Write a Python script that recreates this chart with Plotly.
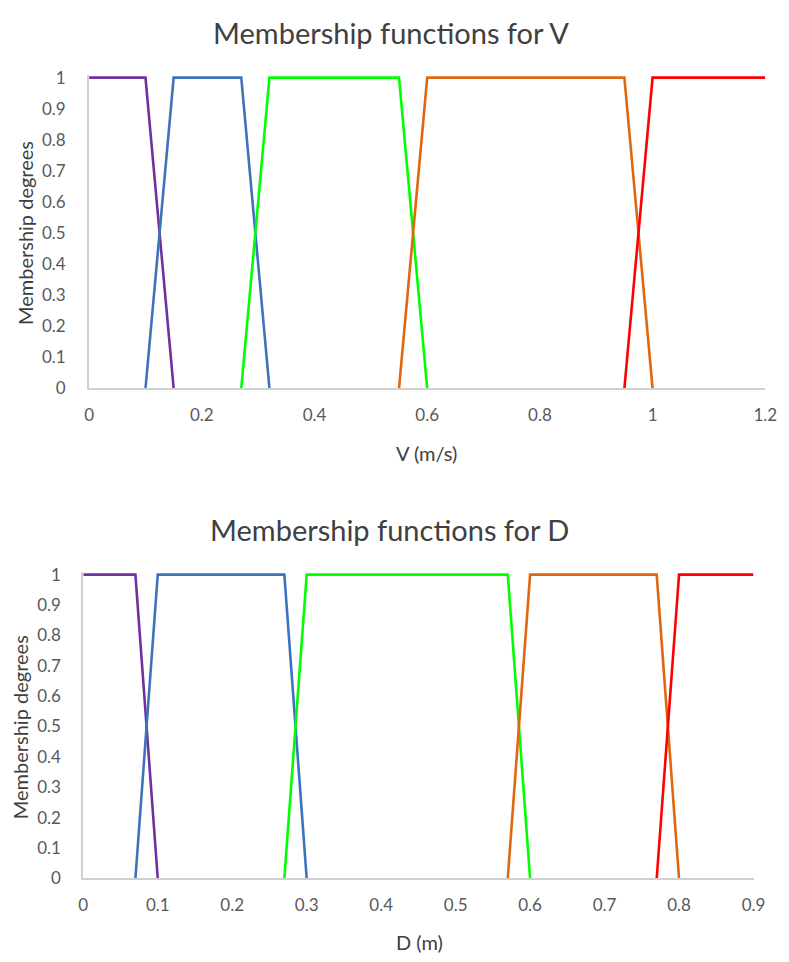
import plotly.graph_objects as go

# Membership function breakpoints for V (m/s)
v_purple_x = [0, 0.1, 0.15]
v_purple_y = [1, 1, 0]
v_blue_x = [0.1, 0.15, 0.27, 0.32]
v_blue_y = [0, 1, 1, 0]
v_green_x = [0.27, 0.32, 0.55, 0.6]
v_green_y = [0, 1, 1, 0]
v_orange_x = [0.55, 0.6, 0.95, 1.0]
v_orange_y = [0, 1, 1, 0]
v_red_x = [0.95, 1.0, 1.2]
v_red_y = [0, 1, 1]

# Membership function breakpoints for D (m)
d_purple_x = [0, 0.07, 0.1]
d_purple_y = [1, 1, 0]
d_blue_x = [0.07, 0.1, 0.27, 0.3]
d_blue_y = [0, 1, 1, 0]
d_green_x = [0.27, 0.3, 0.57, 0.6]
d_green_y = [0, 1, 1, 0]
d_orange_x = [0.57, 0.6, 0.77, 0.8]
d_orange_y = [0, 1, 1, 0]
d_red_x = [0.77, 0.8, 0.9]
d_red_y = [0, 1, 1]

v_ticks = [0, 0.2, 0.4, 0.6, 0.8, 1, 1.2]
d_ticks = [0, 0.1, 0.2, 0.3, 0.4, 0.5, 0.6, 0.7, 0.8, 0.9]
y_ticks = [0, 0.1, 0.2, 0.3, 0.4, 0.5, 0.6, 0.7, 0.8, 0.9, 1]

colors = ["#7030A0", "#3D72BC", "#00FF00", "#E0670E", "#FF0000"]

W, H = 789, 962
FONT = "Lato, 'Open Sans', sans-serif"
TICK_COLOR = "#595959"
TEXT_COLOR = "#404040"

fig = go.Figure()

v_series = [(v_purple_x, v_purple_y), (v_blue_x, v_blue_y), (v_green_x, v_green_y),
            (v_orange_x, v_orange_y), (v_red_x, v_red_y)]
d_series = [(d_purple_x, d_purple_y), (d_blue_x, d_blue_y), (d_green_x, d_green_y),
            (d_orange_x, d_orange_y), (d_red_x, d_red_y)]

for (xs, ys), c in zip(v_series, colors):
    fig.add_trace(go.Scatter(x=xs, y=ys, mode="lines", line=dict(color=c, width=2.6),
                             xaxis="x", yaxis="y", showlegend=False))
for (xs, ys), c in zip(d_series, colors):
    fig.add_trace(go.Scatter(x=xs, y=ys, mode="lines", line=dict(color=c, width=2.6),
                             xaxis="x2", yaxis="y2", showlegend=False))


def px_x(p):
    return p / W


def px_y(p):
    return 1 - p / H


common_x = dict(showgrid=False, zeroline=False, showline=True, linecolor="#D0D0D0",
                linewidth=2, ticks="", ticklabelstandoff=10,
                tickfont=dict(family=FONT, size=17, color=TICK_COLOR), fixedrange=True)
common_y = dict(showgrid=False, zeroline=False, showline=True, linecolor="#D0D0D0",
                linewidth=2, ticks="", tickvals=y_ticks,
                ticktext=[f"{t:g}" for t in y_ticks],
                tickfont=dict(family=FONT, size=17, color=TICK_COLOR), range=[0, 1.008],
                fixedrange=True)

fig.update_layout(
    width=W, height=H,
    margin=dict(l=0, r=0, t=0, b=0),
    paper_bgcolor="white", plot_bgcolor="white",
    xaxis=dict(common_x, domain=[px_x(86), px_x(777)], range=[0, 1.2], tickvals=v_ticks,
               ticktext=[f"{t:g}" for t in v_ticks], anchor="y"),
    yaxis=dict(common_y, domain=[px_y(387), px_y(67.5)], anchor="x", ticklabelstandoff=18),
    xaxis2=dict(common_x, domain=[px_x(80), px_x(765)], range=[0, 0.9], tickvals=d_ticks,
                ticktext=[f"{t:g}" for t in d_ticks], anchor="y2"),
    yaxis2=dict(common_y, domain=[px_y(887), px_y(574.5)], anchor="x2", ticklabelstandoff=17),
)

annotations = [
    dict(text="Membership functions for V", x=px_x(395), y=px_y(24), size=29),
    dict(text="Membership functions for D", x=px_x(393), y=px_y(531), size=29),
    dict(text="V (m/s)", x=px_x(431), y=px_y(453), size=20),
    dict(text="D (m)", x=px_x(424), y=px_y(952), size=20),
]
for a in annotations:
    fig.add_annotation(text=a["text"], x=a["x"], y=a["y"], xref="paper", yref="paper",
                       showarrow=False, xanchor="center", yanchor="middle",
                       font=dict(family=FONT, size=a["size"], color=TEXT_COLOR))

for xc, yc in ((21, 229), (15, 733)):
    fig.add_annotation(text="Membership degrees", x=px_x(xc), y=px_y(yc), xref="paper",
                       yref="paper", showarrow=False, textangle=-90, xanchor="center",
                       yanchor="middle", font=dict(family=FONT, size=20, color=TEXT_COLOR))

fig.write_html("out.html")
